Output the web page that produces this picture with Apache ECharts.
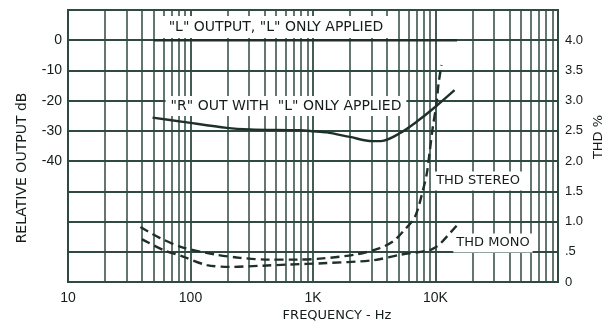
<!DOCTYPE html>
<html>
<head>
<meta charset="utf-8">
<script src="https://cdn.jsdelivr.net/npm/echarts@6/dist/echarts.min.js"></script>
<style>
  html, body { margin: 0; padding: 0; background: #ffffff; }
  #chart { width: 609px; height: 323px; }
</style>
</head>
<body>
<div id="chart"></div>
<script>
// Frequency response and distortion of a stereo channel pair.

// "L" output with only "L" applied (dB)
const lOutFreq = [50, 100, 1000, 10000, 15000];
const lOutDb   = [0, 0, 0, 0, 0];

// "R" output with only "L" applied – crosstalk (dB)
const rOutFreq = [49, 87, 198, 305, 783, 1000, 1300, 2000, 3040, 3700, 5100, 7000, 9600, 14300];
const rOutDb   = [-25.6, -27.0, -29.0, -29.5, -29.8, -30.1, -30.5, -32.0, -33.4, -33.3, -30.8, -27.0, -22.6, -16.5];

// Total harmonic distortion, stereo operation (%)
const thdStereoFreq = [39, 56, 87, 165, 254, 445, 740, 1200, 2300, 3500, 4500, 5400, 6800, 7900, 8500, 9000, 9500, 10200, 10600, 11200];
const thdStereo     = [0.91, 0.73, 0.57, 0.45, 0.40, 0.37, 0.37, 0.39, 0.46, 0.56, 0.67, 0.83, 1.08, 1.52, 1.80, 2.18, 2.56, 2.96, 3.29, 3.59];

// Total harmonic distortion, mono operation (%)
const thdMonoFreq = [40, 60, 87, 136, 210, 390, 650, 1200, 3100, 5100, 9000, 10600, 11500, 15000];
const thdMono     = [0.71, 0.53, 0.42, 0.28, 0.25, 0.27, 0.29, 0.31, 0.36, 0.45, 0.53, 0.61, 0.68, 0.94];

// Axis tick labels
const freqTickValues = [10, 100, 1000, 10000];
const freqTickText   = ['10', '100', '1K', '10K'];
const dbTickValues   = [0, -10, -20, -30, -40];
const thdTickValues  = [0, 0.5, 1.0, 1.5, 2.0, 2.5, 3.0, 3.5, 4.0];
const thdTickText    = ['0', '.5', '1.0', '1.5', '2.0', '2.5', '3.0', '3.5', '4.0'];

// Intermediate log-paper rulings (2..9 in every decade)
const decadeStarts = [10, 100, 1000, 10000];
const rulingFreqs = [];
decadeStarts.forEach(d => { for (let k = 2; k <= 9; k++) rulingFreqs.push(d * k); });

const pairs = (xs, ys) => xs.map((x, i) => [x, ys[i]]);

const INK = '#1f302a';
const RULE = '#2f4a40';
const TEXT = '#141d1a';
const FONT = '"Liberation Sans", Arial, sans-serif';
const LABEL_FONT = '"DejaVu Sans", sans-serif';

const chart = echarts.init(document.getElementById('chart'), null, { renderer: 'canvas' });

chart.setOption({
  animation: false,
  backgroundColor: '#ffffff',
  grid: {
    left: 68, right: 51, top: 10, bottom: 41,
    show: true, borderColor: RULE, borderWidth: 2, backgroundColor: 'transparent'
  },
  xAxis: {
    type: 'log', logBase: 10, min: 10, max: 100000,
    axisLine: { show: false }, axisTick: { show: false },
    splitLine: { show: true, lineStyle: { color: RULE, width: 1.8 } },
    axisLabel: {
      margin: 9, color: TEXT, fontFamily: FONT, fontSize: 14,
      formatter: v => {
        const i = freqTickValues.findIndex(t => Math.abs(t - v) / t < 1e-6);
        return i >= 0 ? freqTickText[i] : '';
      }
    }
  },
  yAxis: [
    {
      type: 'value', min: -80, max: 10, interval: 10,
      axisLine: { show: false }, axisTick: { show: false },
      splitLine: { show: true, lineStyle: { color: RULE, width: 1.8 } },
      axisLabel: {
        margin: 6, color: TEXT, fontFamily: FONT, fontSize: 14,
        formatter: v => dbTickValues.includes(v) ? String(v) : ''
      }
    },
    {
      type: 'value', min: 0, max: 4.5, interval: 0.5, position: 'right',
      axisLine: { show: false }, axisTick: { show: false },
      splitLine: { show: false },
      axisLabel: {
        margin: 7, color: TEXT, fontFamily: FONT, fontSize: 13,
        formatter: v => {
          const i = thdTickValues.findIndex(t => Math.abs(t - v) < 1e-6);
          return i >= 0 ? thdTickText[i] : '';
        }
      }
    }
  ],
  series: [
    {
      name: 'rulings', type: 'line', z: 1, data: [],
      markLine: {
        silent: true, animation: false, symbol: ['none', 'none'],
        label: { show: false },
        lineStyle: { type: 'solid', color: RULE, width: 1.5 },
        data: rulingFreqs.map(f => ({ xAxis: f }))
      }
    },
    {
      name: '"L" OUTPUT', type: 'line', z: 5, yAxisIndex: 0,
      data: pairs(lOutFreq, lOutDb), showSymbol: false,
      lineStyle: { color: INK, width: 2.4 }
    },
    {
      name: '"R" OUT', type: 'line', z: 5, yAxisIndex: 0,
      data: pairs(rOutFreq, rOutDb), showSymbol: false,
      smooth: 0.3,
      lineStyle: { color: INK, width: 2.4 }
    },
    {
      name: 'THD STEREO', type: 'line', z: 5, yAxisIndex: 1,
      data: pairs(thdStereoFreq, thdStereo), showSymbol: false,
      smooth: 0.3,
      lineStyle: { color: INK, width: 2.4, type: [9, 5] }
    },
    {
      name: 'THD MONO', type: 'line', z: 5, yAxisIndex: 1,
      data: pairs(thdMonoFreq, thdMono), showSymbol: false,
      smooth: 0.3,
      lineStyle: { color: INK, width: 2.4, type: [9, 5] }
    }
  ],
  graphic: [
    {
      type: 'text', z: 100, x: 22, y: 168, rotation: Math.PI / 2,
      style: { text: 'RELATIVE OUTPUT dB', font: '14px ' + LABEL_FONT, fill: TEXT, align: 'center', verticalAlign: 'middle' }
    },
    {
      type: 'text', z: 100, x: 599, y: 137, rotation: Math.PI / 2,
      style: { text: 'THD %', font: '13px ' + LABEL_FONT, fill: TEXT, align: 'center', verticalAlign: 'middle' }
    },
    {
      type: 'text', z: 100, x: 337, y: 316,
      style: { text: 'FREQUENCY - Hz', font: '13px ' + LABEL_FONT, fill: TEXT, align: 'center', verticalAlign: 'middle' }
    },
    {
      type: 'text', z: 100, x: 276, y: 27,
      style: { text: '"L" OUTPUT, "L" ONLY APPLIED', font: '14px ' + LABEL_FONT, fill: TEXT,
               align: 'center', verticalAlign: 'middle', backgroundColor: '#ffffff', padding: [4, 6] }
    },
    {
      type: 'text', z: 100, x: 286, y: 106,
      style: { text: '"R" OUT WITH  "L" ONLY APPLIED', font: '14px ' + LABEL_FONT, fill: TEXT,
               align: 'center', verticalAlign: 'middle', backgroundColor: '#ffffff', padding: [3, 5] }
    },
    {
      type: 'text', z: 100, x: 478, y: 181,
      style: { text: 'THD STEREO', font: '13px ' + LABEL_FONT, fill: TEXT,
               align: 'center', verticalAlign: 'middle', backgroundColor: '#ffffff', padding: [3, 3] }
    },
    {
      type: 'text', z: 100, x: 493, y: 243,
      style: { text: 'THD MONO', font: '13px ' + LABEL_FONT, fill: TEXT,
               align: 'center', verticalAlign: 'middle', backgroundColor: '#ffffff', padding: [3, 3] }
    }
  ]
});
</script>
</body>
</html>
